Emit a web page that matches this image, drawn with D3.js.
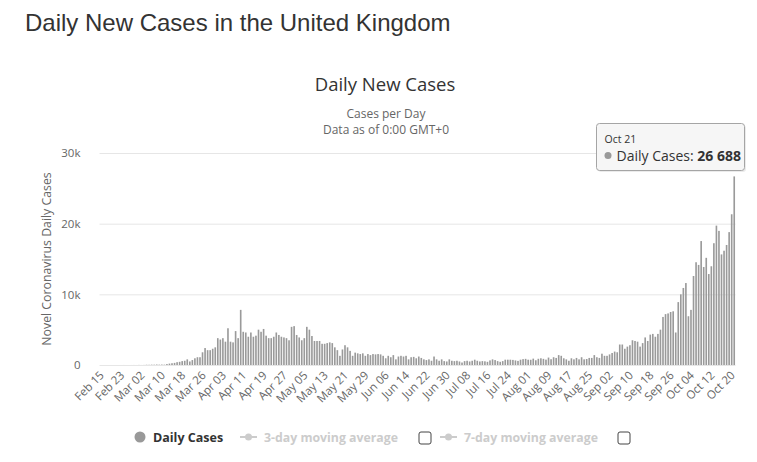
<!DOCTYPE html>
<html>
<head>
<meta charset="utf-8">
<script src="https://cdn.jsdelivr.net/npm/d3@7"></script>
<style>
  body { margin: 0; background: #fff; }
  text { font-family: "Open Sans", "DejaVu Sans", sans-serif; }
</style>
</head>
<body>
<div id="chart"></div>
<script>
// daily new cases
const feb = [0,0,0,0,0,0,0,0,0,4,0,0,2,5,3];  // from Feb 15
const mar = [12,4,11,34,30,48,43,67,48,61,50,130,200,250,300,400,450,550,600,800,500,700,950,1100,1100,1800,2400,2100,2100,2300,2500];
const apr = [3800,3600,3800,3300,5200,3300,3200,4800,3800,7800,4700,4600,4000,4600,4000,4150,5000,4700,5100,4150,3800,3800,4000,4600,4250,4000,3900,3800,3500,5400];
const may = [5500,4250,3900,3500,3800,5400,5000,4100,3400,3400,3400,3000,3000,3100,3200,3100,2500,2100,1300,2200,2800,2500,2000,1300,1750,1650,1550,1650,1300,1550,1400];
const jun = [1550,1500,1550,1500,1300,950,1300,1100,1400,800,1200,1300,1200,1300,800,1100,1150,950,1200,1000,800,700,800,600,1200,800,600,800,550,500];
const jul = [800,600,550,600,500,350,550,600,500,600,750,600,500,550,520,450,650,800,700,550,450,550,750,750,750,720,650,580,750,830,870];
const aug = [750,740,900,670,880,950,870,760,1050,820,1100,1000,1400,1300,950,800,600,950,800,1000,800,1100,800,850,1000,1000,1400,1100,1000,1600,1300];
const sep = [1300,1500,1700,1900,1800,2900,2900,2300,2600,2800,3500,3400,3300,2600,3100,3900,3400,4300,4400,4000,4400,5000,6800,7200,7300,7500,7600,4600,8900,10000];
const oct = [10900,11600,6900,7800,12594,14542,14162,17540,13864,15166,12872,13972,17234,19724,18980,15650,16171,16982,18804,21331,26688];  // to Oct 21

const dailyCases = [].concat(feb, mar, apr, may, jun, jul, aug, sep, oct);

// one category per day, Feb 15 .. Oct 21 2020
const fmt = d3.timeFormat("%b %d");
const days = d3.timeDay.range(new Date(2020, 1, 15), new Date(2020, 9, 22)).map(fmt);

const tickLabels = ["Feb 15","Feb 23","Mar 02","Mar 10","Mar 18","Mar 26","Apr 03","Apr 11","Apr 19","Apr 27",
  "May 05","May 13","May 21","May 29","Jun 06","Jun 14","Jun 22","Jun 30","Jul 08","Jul 16","Jul 24",
  "Aug 01","Aug 09","Aug 17","Aug 25","Sep 02","Sep 10","Sep 18","Sep 26","Oct 04","Oct 12","Oct 20"];
const yTicks = [0, 10000, 20000, 30000];

const width = 757, height = 462;
const margin = {top: 153, right: 21.5, bottom: 97, left: 99.5};

const svg = d3.select("#chart").append("svg")
  .attr("width", width)
  .attr("height", height);

const x = d3.scaleBand()
  .domain(days)
  .range([margin.left, width - margin.right])
  .paddingInner(0.36)
  .paddingOuter(0.18);

const y = d3.scaleLinear()
  .domain([0, 30000])
  .range([height - margin.bottom, margin.top]);

// titles
svg.append("text").attr("x", 25).attr("y", 31)
  .style("font-family", "'Liberation Sans', Arial, sans-serif")
  .attr("font-size", 24).attr("fill", "#333")
  .text("Daily New Cases in the United Kingdom");

svg.append("text").attr("x", 385).attr("y", 91).attr("text-anchor", "middle")
  .attr("font-size", 18.5).attr("fill", "#333").text("Daily New Cases");
svg.append("text").attr("x", 386).attr("y", 118).attr("text-anchor", "middle")
  .attr("font-size", 12).attr("fill", "#666").text("Cases per Day");
svg.append("text").attr("x", 386).attr("y", 134).attr("text-anchor", "middle")
  .attr("font-size", 12).attr("fill", "#666").text("Data as of 0:00 GMT+0");

// grid + y labels
const yAxis = g => g
  .attr("transform", `translate(${margin.left},0)`)
  .call(d3.axisLeft(y).tickValues(yTicks)
    .tickSize(-(width - margin.left - margin.right))
    .tickPadding(19)
    .tickFormat(d => d === 0 ? "0" : d / 1000 + "k"))
  .call(g => g.select(".domain").remove())
  .call(g => g.selectAll(".tick line").attr("stroke", "#e6e6e6"))
  .call(g => g.selectAll(".tick text").attr("fill", "#666")
    .attr("font-size", 11.5).style("font-family", "'Open Sans', sans-serif"));

svg.append("g").call(yAxis);

svg.append("text")
  .attr("transform", `translate(51,259) rotate(-90)`)
  .attr("text-anchor", "middle")
  .attr("font-size", 12.3).attr("fill", "#666")
  .text("Novel Coronavirus Daily Cases");

// bars
svg.append("g").selectAll("rect")
  .data(dailyCases)
  .enter()
  .append("rect")
  .attr("x", (d, i) => x(days[i]))
  .attr("width", x.bandwidth())
  .attr("y", d => y(d))
  .attr("height", d => y(0) - y(d))
  .attr("fill", "#9a9a9a");

// x labels, every 8th day
const xAxis = g => g
  .attr("transform", `translate(0,${height - margin.bottom})`)
  .call(d3.axisBottom(x).tickValues(tickLabels).tickSize(0).tickPadding(0))
  .call(g => g.select(".domain").remove())
  .call(g => g.selectAll(".tick text")
    .attr("fill", "#666").attr("font-size", 11.5)
    .style("font-family", "'Open Sans', sans-serif")
    .attr("text-anchor", "end")
    .attr("dy", null).attr("y", 0)
    .attr("transform", "translate(4,11) rotate(-45)"));

svg.append("g").call(xAxis);

// legend
const leg = svg.append("g").attr("transform", "translate(0,437)");
leg.append("circle").attr("cx", 140).attr("cy", 0).attr("r", 5.5).attr("fill", "#999");
leg.append("text").attr("x", 153).attr("y", 4.5).attr("font-size", 12.5)
  .attr("font-weight", "bold").attr("fill", "#333").text("Daily Cases");

const avgItems = [{label: "3-day moving average", x: 240, box: 419},
                  {label: "7-day moving average", x: 440, box: 618}];
avgItems.forEach(it => {
  leg.append("line").attr("x1", it.x).attr("x2", it.x + 17).attr("y1", 0).attr("y2", 0)
    .attr("stroke", "#ccc").attr("stroke-width", 2);
  leg.append("circle").attr("cx", it.x + 8.5).attr("cy", 0).attr("r", 3.5).attr("fill", "#ccc");
  leg.append("text").attr("x", it.x + 24).attr("y", 4.5).attr("font-size", 12.3)
    .attr("font-weight", "bold").attr("fill", "#ccc").text(it.label);
  leg.append("rect").attr("x", it.box).attr("y", -5).attr("width", 12).attr("height", 12)
    .attr("rx", 2).attr("fill", "#fff").attr("stroke", "#444").attr("stroke-width", 1);
});

// tooltip for last point
const last = dailyCases.length - 1;
const tip = svg.append("g").attr("transform", "translate(596.5,123.5)");
tip.append("rect").attr("x", 1.5).attr("y", 1.5).attr("width", 148).attr("height", 47)
  .attr("rx", 3).attr("fill", "rgba(0,0,0,0.08)");
tip.append("rect").attr("width", 148).attr("height", 47).attr("rx", 3)
  .attr("fill", "rgba(247,247,247,0.95)").attr("stroke", "#a5a5a5");
tip.append("text").attr("x", 8).attr("y", 19).attr("font-size", 10.5).attr("fill", "#333")
  .text(d3.timeFormat("%b %-d")(new Date(2020, 9, 21)));
tip.append("circle").attr("cx", 11.5).attr("cy", 32).attr("r", 3.5).attr("fill", "#999");
const t2 = tip.append("text").attr("x", 20).attr("y", 37).attr("font-size", 14).attr("fill", "#333");
t2.append("tspan").text("Daily Cases: ");
t2.append("tspan").attr("font-weight", "bold")
  .text(d3.format(",")(dailyCases[last]).replace(/,/g, " "));
</script>
</body>
</html>
